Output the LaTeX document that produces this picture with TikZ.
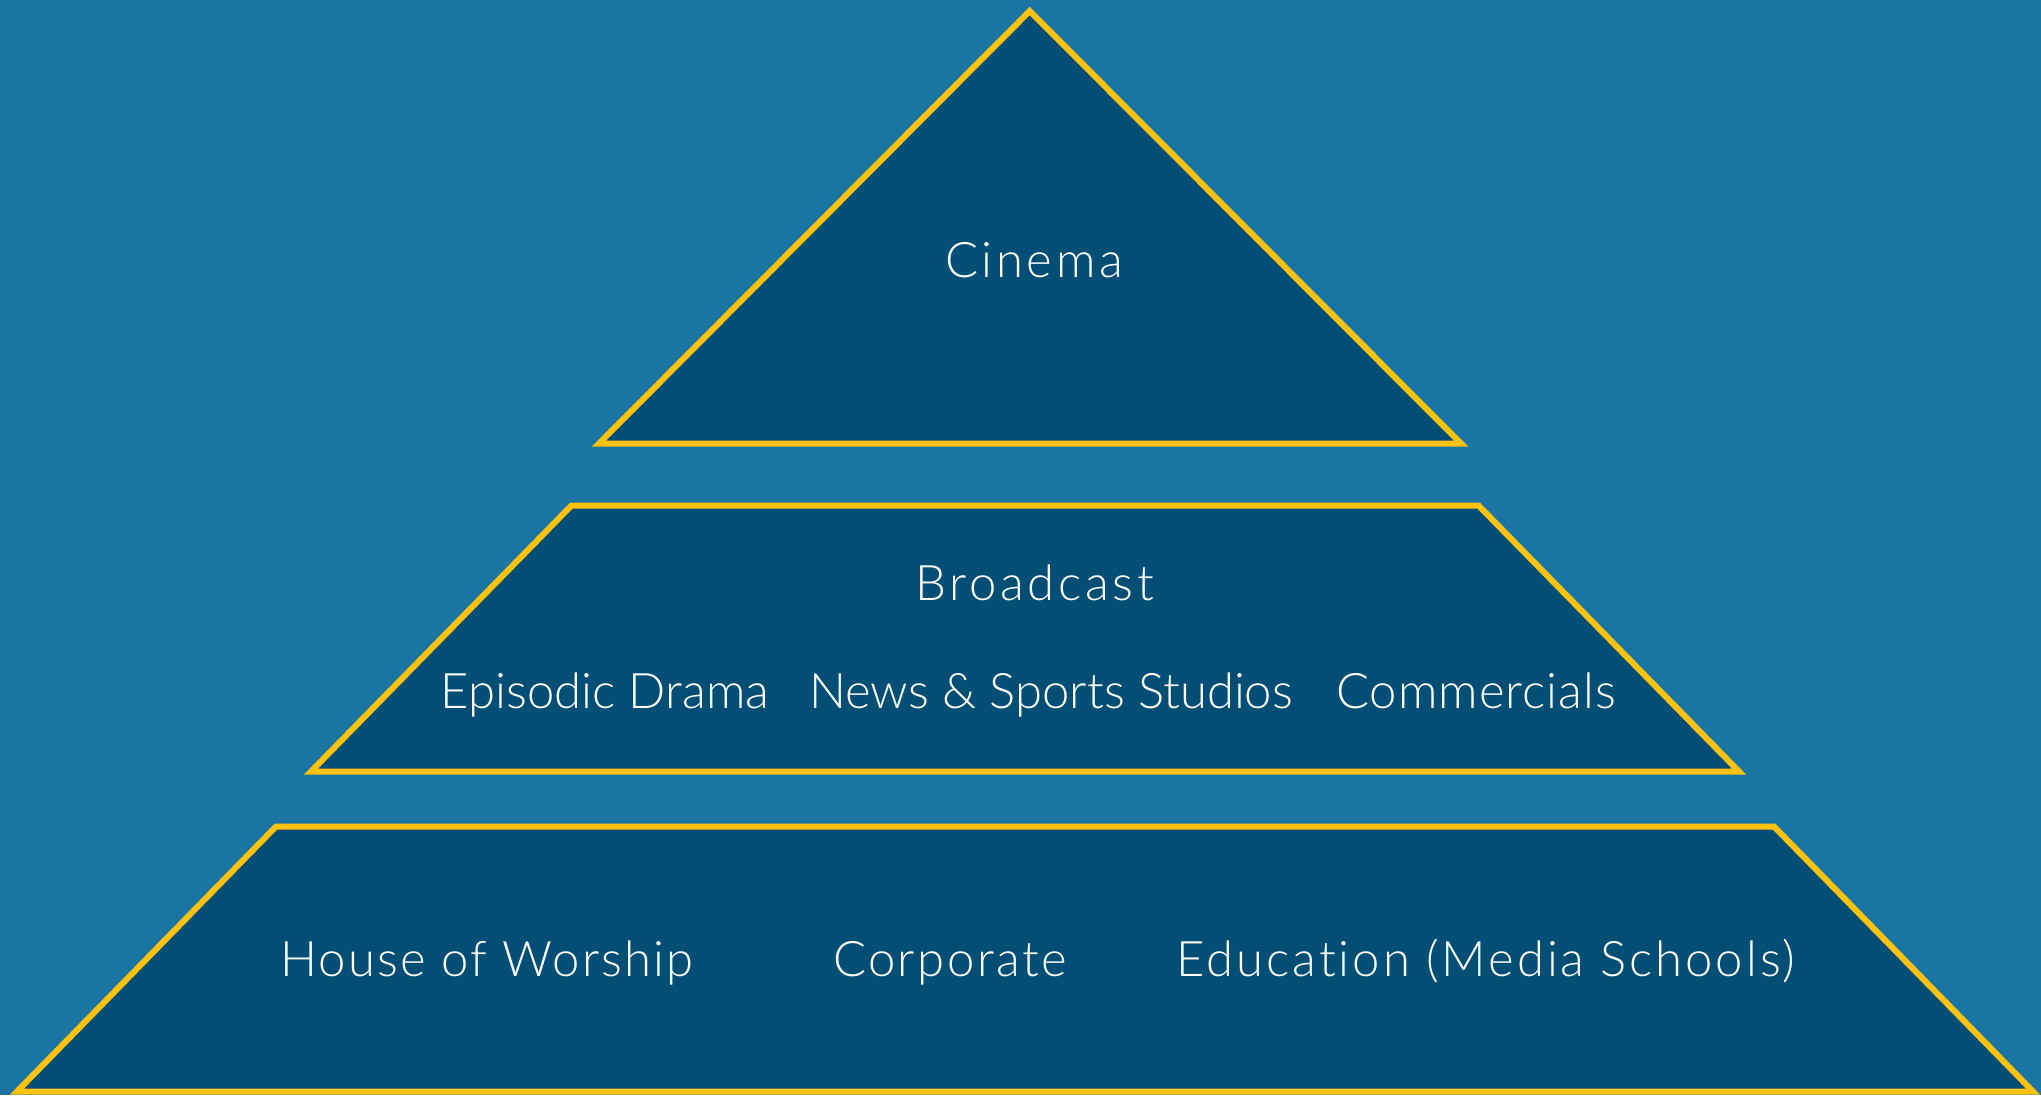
\documentclass[tikz,border=0pt]{standalone}
\usepackage{fontspec}
\setmainfont{Lato Light}[Ligatures=NoCommon]
\definecolor{bgblue}{RGB}{27,117,162}
\definecolor{darkfill}{RGB}{2,78,116}
\definecolor{goldline}{RGB}{255,194,14}
\begin{document}
\begin{tikzpicture}[x=1pt,y=-1pt,
  tier/.style={draw=goldline,fill=darkfill,line width=6pt,line join=miter},
  lbl/.style={text=white,font=\fontsize{49}{58}\selectfont,inner sep=0pt,anchor=base},
  track/.style={lbl,font=\fontsize{49}{58}\selectfont\addfontfeatures{LetterSpace=#1}}]
\fill[bgblue] (0,0) rectangle (2041,1095);
\useasboundingbox (0,0) rectangle (2041,1095);
\draw[tier] (1029.7,11) -- (1461,443.5) -- (599,443.5) -- cycle;
\draw[tier] (571.5,505.5) -- (1478.5,505.5) -- (1739,771.5) -- (311,771.5) -- cycle;
\draw[tier] (276,826.5) -- (1774,826.5) -- (2033,1091.5) -- (17,1091.5) -- cycle;
\node[track=7.3] (cinema) at (1034,277) {Cinema};
\node[track=7.6] (broadcast) at (1035,600) {Broadcast};
\node[lbl] (episodic) at (605,708) {Episodic Drama};
\node[lbl] (news) at (1051,708) {News \& Sports Studios};
\node[track=2] (commercials) at (1476,708) {Commercials};
\node[track=4.6] (worship) at (487,976) {House of Worship};
\node[track=5] (corporate) at (950,976) {Corporate};
\node[track=6] (education) at (1486,976) {Education (Media Schools)};
\end{tikzpicture}
\end{document}
